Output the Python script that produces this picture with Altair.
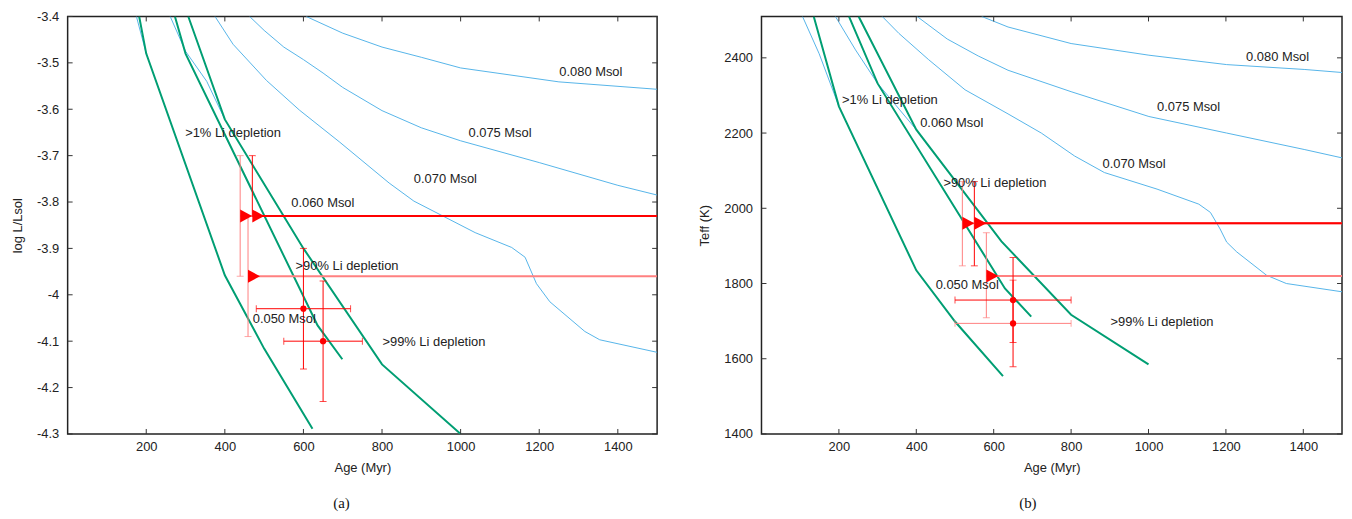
import altair as alt
import pandas as pd

FONT = "Liberation Sans"
GREEN = "#009e73"
BLUE = "#56b4e9"
RED = "#ff0000"
LIGHT = "#ff8080"
TRI = "M0,-1L1.85,0L0,1Z"

XTICKS = [200, 400, 600, 800, 1000, 1200, 1400]

# ---------------- panel (a): log L/Lsol ----------------
A_YTICKS = [-3.4, -3.5, -3.6, -3.7, -3.8, -3.9, -4, -4.1, -4.2, -4.3]

A_LI1_AGE = [182, 200, 400, 500, 623]
A_LI1_VAL = [-3.40, -3.48, -3.958, -4.116, -4.289]
A_LI90_AGE = [273, 300, 636, 699]
A_LI90_VAL = [-3.40, -3.48, -4.066, -4.139]
A_LI99_AGE = [307, 400, 600, 800, 1000]
A_LI99_VAL = [-3.40, -3.622, -3.90, -4.15, -4.30]

A_M050_AGE = [175, 200]
A_M050_VAL = [-3.40, -3.48]
A_M060_AGE = [261, 300, 354, 400]
A_M060_VAL = [-3.40, -3.475, -3.54, -3.622]
A_M070_AGE = [375, 421, 506, 590, 691, 818, 881, 1037, 1130, 1164, 1193, 1227, 1316, 1354, 1500]
A_M070_VAL = [-3.40, -3.46, -3.538, -3.602, -3.670, -3.759, -3.798, -3.866, -3.898,
              -3.919, -3.976, -4.015, -4.079, -4.097, -4.124]
A_M075_AGE = [463, 500, 550, 600, 650, 700, 800, 900, 1000, 1200, 1400, 1500]
A_M075_VAL = [-3.40, -3.43, -3.466, -3.493, -3.522, -3.553, -3.603, -3.64, -3.668, -3.715, -3.764, -3.785]
A_M080_AGE = [607, 700, 800, 900, 1000, 1250, 1500]
A_M080_VAL = [-3.40, -3.436, -3.466, -3.488, -3.511, -3.541, -3.557]

A_LABEL_TEXT = [">1% Li depletion", "0.080 Msol", "0.075 Msol", "0.070 Msol",
                "0.060 Msol", ">90% Li depletion", "0.050 Msol", ">99% Li depletion"]
A_LABEL_AGE = [299, 1251, 1020, 881, 569, 580, 471, 801]
A_LABEL_VAL = [-3.651, -3.520, -3.651, -3.750, -3.802, -3.938, -4.052, -4.101]

A_LIM_AGE = [439, 470, 459]
A_LIM_VAL = [-3.83, -3.83, -3.96]
A_LIM_LO = [-3.96, -3.83, -4.09]
A_LIM_HI = [-3.70, -3.70, -3.83]
A_LIM_TONE = ["light", "dark", "light"]

A_PT_AGE = [600, 650]
A_PT_VAL = [-4.03, -4.10]
A_PT_AGE_ERR = [120, 100]
A_PT_VAL_ERR = [0.13, 0.13]
A_PT_HTONE = ["dark", "dark"]

# ---------------- panel (b): Teff ----------------
B_YTICKS = [1400, 1600, 1800, 2000, 2200, 2400]

B_LI1_AGE = [135, 200, 400, 500, 624]
B_LI1_VAL = [2510, 2271, 1835, 1699, 1554]
B_LI90_AGE = [226, 300, 629, 697]
B_LI90_VAL = [2510, 2332, 1787, 1712]
B_LI99_AGE = [251, 400, 620, 800, 1000]
B_LI99_VAL = [2510, 2209, 1912, 1717, 1585]

B_M050_AGE = [106, 149, 200]
B_M050_VAL = [2510, 2411, 2271]
B_M060_AGE = [191, 243, 300, 400]
B_M060_VAL = [2510, 2421, 2332, 2209]
B_M070_AGE = [312, 355, 432, 526, 637, 723, 809, 886, 1022, 1130, 1160, 1185, 1202, 1228, 1305, 1356, 1500]
B_M070_VAL = [2510, 2465, 2395, 2315, 2251, 2200, 2139, 2095, 2051, 2011, 1989, 1945, 1910, 1884, 1822, 1800, 1778]
B_M075_AGE = [402, 480, 560, 637, 800, 1001, 1202, 1404, 1500]
B_M075_VAL = [2510, 2450, 2405, 2367, 2310, 2244, 2200, 2156, 2134]
B_M080_AGE = [569, 637, 800, 1001, 1202, 1404, 1500]
B_M080_VAL = [2510, 2482, 2438, 2407, 2382, 2369, 2361]

B_LABEL_TEXT = [">1% Li depletion", "0.060 Msol", ">90% Li depletion", "0.050 Msol",
                ">99% Li depletion", "0.070 Msol", "0.075 Msol", "0.080 Msol"]
B_LABEL_AGE = [208, 410, 470, 450, 902, 881, 1022, 1252]
B_LABEL_VAL = [2288, 2227, 2068, 1797, 1697, 2119, 2269, 2401]

B_LIM_AGE = [519, 550, 581]
B_LIM_VAL = [1960, 1960, 1820]
B_LIM_LO = [1847, 1847, 1709]
B_LIM_HI = [2071, 2071, 1935]
B_LIM_TONE = ["light", "dark", "light"]

B_PT_AGE = [650, 650]
B_PT_VAL = [1756, 1694]
B_PT_AGE_ERR = [150, 150]
B_PT_VAL_ERR = [113, 115]
B_PT_HTONE = ["dark", "light"]

TONE = {"dark": RED, "light": LIGHT}


def lines_df(tracks):
    rows = []
    for name, ages, vals in tracks:
        for i, (a, v) in enumerate(zip(ages, vals)):
            rows.append({"name": name, "i": i, "age": a, "val": v})
    return pd.DataFrame(rows)


def make_panel(green, blue, labels, lims, pts, ydom, yticks, ytitle, caption, dx, W, H):
    xsc = alt.Scale(domain=[0, 1500], nice=False, zero=False)
    ysc = alt.Scale(domain=ydom, nice=False, zero=False)
    xax = alt.Axis(title="Age (Myr)", values=XTICKS, labelExpr="'' + datum.value",
                   ticks=False, domain=False, grid=False, labelPadding=7, titlePadding=8)
    yax = alt.Axis(title=ytitle, values=yticks, labelExpr="'' + datum.value",
                   ticks=False, domain=False, grid=False, labelPadding=9, titlePadding=12)

    def X(f):
        return alt.X(f, type="quantitative", scale=xsc, axis=xax)

    def Y(f):
        return alt.Y(f, type="quantitative", scale=ysc, axis=yax)

    bdf = lines_df(blue)
    gdf = lines_df(green)
    blue_l = alt.Chart(bdf).mark_line(color=BLUE, strokeWidth=1, clip=True).encode(
        x=X("age"), y=Y("val"), detail="name:N", order="i:Q")
    green_l = alt.Chart(gdf).mark_line(color=GREEN, strokeWidth=2, clip=True).encode(
        x=X("age"), y=Y("val"), detail="name:N", order="i:Q")

    xt = pd.DataFrame({"t": XTICKS})
    yt = pd.DataFrame({"t": yticks})
    tk = dict(color="#333", strokeWidth=1)
    t_bot = alt.Chart(xt).mark_rule(**tk).encode(x=X("t"), y=alt.value(H), y2=alt.value(H - 5))
    t_top = alt.Chart(xt).mark_rule(**tk).encode(x=X("t"), y=alt.value(0), y2=alt.value(5))
    t_lft = alt.Chart(yt).mark_rule(**tk).encode(y=Y("t"), x=alt.value(0), x2=alt.value(5))
    t_rgt = alt.Chart(yt).mark_rule(**tk).encode(y=Y("t"), x=alt.value(W), x2=alt.value(W - 5))

    ages, vals, los, his, tones = lims
    ldf = pd.DataFrame({"age": ages, "val": vals, "lo": los, "hi": his,
                        "xend": [1500] * len(ages), "col": [TONE[t] for t in tones]})
    col = alt.Color("col:N", scale=None)
    l_vbar = alt.Chart(ldf).mark_rule(strokeWidth=1).encode(x=X("age"), y=Y("lo"), y2="hi:Q", color=col)
    l_cap1 = alt.Chart(ldf).mark_tick(orient="horizontal", size=7, thickness=1).encode(
        x=X("age"), y=Y("lo"), color=col)
    l_cap2 = alt.Chart(ldf).mark_tick(orient="horizontal", size=7, thickness=1).encode(
        x=X("age"), y=Y("hi"), color=col)
    l_line = alt.Chart(ldf).mark_rule(strokeWidth=2, clip=True).encode(
        x=X("age"), x2="xend:Q", y=Y("val"), color=col)
    l_tri = alt.Chart(ldf).mark_point(shape=TRI, size=169, filled=True, opacity=1, color=RED).encode(
        x=X("age"), y=Y("val"))

    pa, pv, pae, pve, ph = pts
    pdf = pd.DataFrame({"age": pa, "val": pv,
                        "alo": [a - e for a, e in zip(pa, pae)], "ahi": [a + e for a, e in zip(pa, pae)],
                        "vlo": [v - e for v, e in zip(pv, pve)], "vhi": [v + e for v, e in zip(pv, pve)],
                        "hcol": [TONE[t] for t in ph]})
    hcol = alt.Color("hcol:N", scale=None)
    p_h = alt.Chart(pdf).mark_rule(strokeWidth=1).encode(x=X("alo"), x2="ahi:Q", y=Y("val"), color=hcol)
    p_hc1 = alt.Chart(pdf).mark_tick(orient="vertical", size=7, thickness=1).encode(
        x=X("alo"), y=Y("val"), color=hcol)
    p_hc2 = alt.Chart(pdf).mark_tick(orient="vertical", size=7, thickness=1).encode(
        x=X("ahi"), y=Y("val"), color=hcol)
    p_v = alt.Chart(pdf).mark_rule(strokeWidth=1, color=RED).encode(x=X("age"), y=Y("vlo"), y2="vhi:Q")
    p_vc1 = alt.Chart(pdf).mark_tick(orient="horizontal", size=7, thickness=1, color=RED).encode(
        x=X("age"), y=Y("vlo"))
    p_vc2 = alt.Chart(pdf).mark_tick(orient="horizontal", size=7, thickness=1, color=RED).encode(
        x=X("age"), y=Y("vhi"))
    p_pt = alt.Chart(pdf).mark_circle(size=40, opacity=1, color=RED).encode(x=X("age"), y=Y("val"))

    txt, ta, tv = labels
    tdf = pd.DataFrame({"text": txt, "age": ta, "val": tv})
    text = alt.Chart(tdf).mark_text(align="left", baseline="middle", font=FONT, fontSize=13,
                                    color="#222").encode(x=X("age"), y=Y("val"), text="text:N")

    return alt.layer(
        blue_l, green_l, t_bot, t_top, t_lft, t_rgt,
        l_vbar, l_cap1, l_cap2, l_line, l_tri,
        p_h, p_hc1, p_hc2, p_v, p_vc1, p_vc2, p_pt, text,
    ).properties(
        width=W, height=H,
        title=alt.TitleParams(caption, orient="bottom", anchor="middle", font="Liberation Serif",
                              fontSize=15, fontWeight="normal", color="#111", offset=21, dx=dx),
    )


left = make_panel(
    green=[("li1", A_LI1_AGE, A_LI1_VAL), ("li90", A_LI90_AGE, A_LI90_VAL), ("li99", A_LI99_AGE, A_LI99_VAL)],
    blue=[("m050", A_M050_AGE, A_M050_VAL), ("m060", A_M060_AGE, A_M060_VAL),
          ("m070", A_M070_AGE, A_M070_VAL), ("m075", A_M075_AGE, A_M075_VAL),
          ("m080", A_M080_AGE, A_M080_VAL)],
    labels=(A_LABEL_TEXT, A_LABEL_AGE, A_LABEL_VAL),
    lims=(A_LIM_AGE, A_LIM_VAL, A_LIM_LO, A_LIM_HI, A_LIM_TONE),
    pts=(A_PT_AGE, A_PT_VAL, A_PT_AGE_ERR, A_PT_VAL_ERR, A_PT_HTONE),
    ydom=[-4.3, -3.4], yticks=A_YTICKS, ytitle="log L/Lsol", caption="(a)", dx=-21, W=593, H=420)

right = make_panel(
    green=[("li1", B_LI1_AGE, B_LI1_VAL), ("li90", B_LI90_AGE, B_LI90_VAL), ("li99", B_LI99_AGE, B_LI99_VAL)],
    blue=[("m050", B_M050_AGE, B_M050_VAL), ("m060", B_M060_AGE, B_M060_VAL),
          ("m070", B_M070_AGE, B_M070_VAL), ("m075", B_M075_AGE, B_M075_VAL),
          ("m080", B_M080_AGE, B_M080_VAL)],
    labels=(B_LABEL_TEXT, B_LABEL_AGE, B_LABEL_VAL),
    lims=(B_LIM_AGE, B_LIM_VAL, B_LIM_LO, B_LIM_HI, B_LIM_TONE),
    pts=(B_PT_AGE, B_PT_VAL, B_PT_AGE_ERR, B_PT_VAL_ERR, B_PT_HTONE),
    ydom=[1400, 2510], yticks=B_YTICKS, ytitle="Teff (K)", caption="(b)", dx=-24, W=584, H=420)

chart = alt.hconcat(left, right, spacing=105, bounds="flush").properties(
    padding={"top": 0, "left": 2, "right": 0, "bottom": 0},
    background="white",
).configure_view(
    stroke="#222", strokeWidth=1.5,
).configure_axis(
    labelFont=FONT, labelFontSize=13, labelColor="#222",
    titleFont=FONT, titleFontSize=13, titleFontWeight="normal", titleColor="#222",
)

chart.save("out.html", embed_options={"renderer": "svg", "actions": False})
